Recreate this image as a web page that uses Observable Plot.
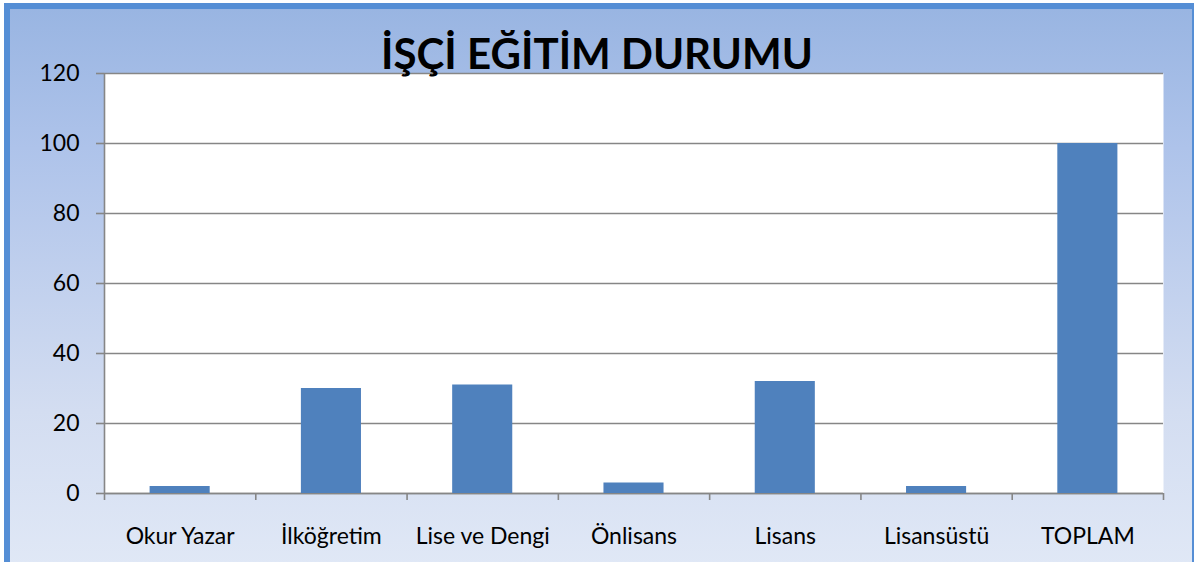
<!DOCTYPE html>
<html>
<head>
<meta charset="utf-8">
<script src="https://cdn.jsdelivr.net/npm/d3@7"></script>
<script src="https://cdn.jsdelivr.net/npm/@observablehq/plot@0.6"></script>
<style>
  html, body { margin: 0; padding: 0; background: #ffffff; width: 1194px; height: 562px; overflow: hidden; }
  #bg {
    position: absolute; left: 4px; top: 3px; width: 1194px; height: 570px;
    box-sizing: border-box; border: 6px solid #558ed5;
    background: linear-gradient(to bottom, #99b5e2 0%, #aec3ea 25%, #d3ddf1 72%, #e0e8f6 100%);
  }
  #chart { position: absolute; left: 0; top: 0; }
  #title {
    position: absolute; left: 0; width: 1194px; top: 32px; text-align: center;
    font-family: Lato, "Open Sans", sans-serif; font-weight: 700; font-size: 42px; color: #000;
    line-height: 1; z-index: 2; white-space: nowrap;
  }
  #chart svg { overflow: visible; }
</style>
</head>
<body>
<div id="bg"></div>
<div id="chart"></div>
<div id="title"></div>
<script>
const titleText = "İŞÇİ EĞİTİM DURUMU";
const categories = ["Okur Yazar", "İlköğretim", "Lise ve Dengi", "Önlisans", "Lisans", "Lisansüstü", "TOPLAM"];
const values = [2, 30, 31, 3, 32, 2, 100];
const yTicks = [0, 20, 40, 60, 80, 100, 120];

const data = categories.map((c, i) => ({category: c, index: i, value: values[i]}));
const gridColor = "#868686";
const fontFamily = "Lato, 'Open Sans', sans-serif";

document.getElementById("title").textContent = titleText;

const chart = Plot.plot({
  width: 1194,
  height: 562,
  marginLeft: 104,
  marginRight: 31,
  marginTop: 73,
  marginBottom: 69,
  style: {background: "transparent", fontFamily: fontFamily, fontSize: "23px", color: "#000"},
  x: {type: "linear", domain: [0, categories.length]},
  y: {domain: [0, 120]},
  marks: [
    Plot.frame({fill: "white", stroke: null}),
    Plot.gridY(yTicks, {stroke: gridColor, strokeOpacity: 1, strokeWidth: 1.6}),
    Plot.ruleX([0], {stroke: gridColor, strokeWidth: 1.6}),
    Plot.ruleY([0], {stroke: gridColor, strokeWidth: 1.6}),
    Plot.rectY(data, {x1: d => d.index, x2: d => d.index + 1, y: "value", fill: "#4f81bd", insetLeft: 45.6, insetRight: 45.6}),
    Plot.axisY({ticks: yTicks, tickSize: 8, tickPadding: 17, stroke: gridColor, strokeWidth: 1.6, fontSize: 23, fill: "#000", label: null}),
    Plot.axisX({ticks: d3.range(0, categories.length + 1), tickSize: 7, tickFormat: () => "", stroke: gridColor, strokeWidth: 1.6, label: null}),
    Plot.axisX({ticks: categories.map((c, i) => i + 0.5), tickSize: 0, tickPadding: 34, tickFormat: v => categories[Math.floor(v)], fontSize: 23, fill: "#000", label: null})
  ]
});
document.getElementById("chart").appendChild(chart);
</script>
</body>
</html>
